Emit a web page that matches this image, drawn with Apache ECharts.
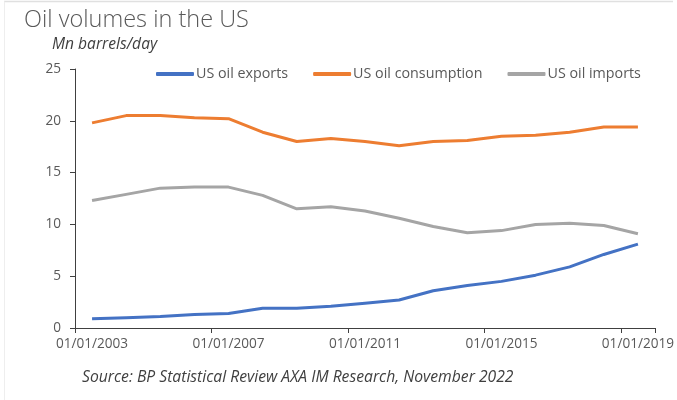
<!DOCTYPE html>
<html><head><meta charset="utf-8">
<script src="https://cdn.jsdelivr.net/npm/echarts@6/dist/echarts.min.js"></script>
<style>html,body{margin:0;padding:0;background:#fff}#c{width:677px;height:400px}</style>
</head><body><div id="c"></div>
<script>
const categories = ["01/01/2003","01/01/2004","01/01/2005","01/01/2006","01/01/2007","01/01/2008","01/01/2009","01/01/2010","01/01/2011","01/01/2012","01/01/2013","01/01/2014","01/01/2015","01/01/2016","01/01/2017","01/01/2018","01/01/2019"];
const exportsData = [0.9, 1.0, 1.1, 1.3, 1.4, 1.9, 1.9, 2.1, 2.4, 2.7, 3.6, 4.1, 4.5, 5.1, 5.9, 7.1, 8.1];
const consumptionData = [19.8, 20.5, 20.5, 20.3, 20.2, 18.9, 18.0, 18.3, 18.0, 17.6, 18.0, 18.1, 18.5, 18.6, 18.9, 19.4, 19.4];
const importsData = [12.3, 12.9, 13.5, 13.6, 13.6, 12.8, 11.5, 11.7, 11.3, 10.6, 9.8, 9.2, 9.4, 10.0, 10.1, 9.9, 9.1];
const seriesNames = ["US oil exports", "US oil consumption", "US oil imports"];
const yTicks = {min: 0, max: 25, interval: 5};

const FONT = '"Open Sans", sans-serif';
const chart = echarts.init(document.getElementById('c'), null, {renderer: 'canvas'});
const mk = (name, data, color) => ({
  name, type: 'line', data, symbol: 'none', smooth: false,
  lineStyle: {color, width: 3}, itemStyle: {color}
});
chart.setOption({
  animation: false,
  backgroundColor: '#fff',
  title: {
    text: 'Oil volumes in the US', left: 19, top: 3,
    textStyle: {fontFamily: FONT, fontSize: 23.5, fontWeight: 300, color: '#595959'}
  },
  legend: {
    data: seriesNames, left: 151, top: 62, itemWidth: 38, itemHeight: 4, itemGap: 25,
    icon: 'roundRect',
    textStyle: {fontFamily: FONT, fontSize: 14.3, color: '#595959', padding: [0, 0, 0, -3]}
  },
  grid: {left: 75, right: 22, top: 69, bottom: 72, containLabel: false},
  xAxis: {
    type: 'category', data: categories, boundaryGap: true,
    axisLine: {lineStyle: {color: '#404040', width: 1}},
    axisTick: {show: true, interval: 3, length: 5, lineStyle: {color: '#404040'}},
    axisLabel: {interval: 3, margin: 9, fontFamily: FONT, fontSize: 13.6, color: '#595959', hideOverlap: false},
    splitLine: {show: false}
  },
  yAxis: {
    type: 'value', min: yTicks.min, max: yTicks.max, interval: yTicks.interval,
    axisLine: {show: true, lineStyle: {color: '#404040', width: 1}},
    axisTick: {show: true, length: 5, lineStyle: {color: '#404040'}},
    axisLabel: {margin: 14, fontFamily: FONT, fontSize: 13.6, color: '#595959'},
    splitLine: {show: false}
  },
  graphic: [
    {type: 'text', left: 52, top: 37, style: {text: 'Mn barrels/day', fontFamily: FONT, fontSize: 15.6, fontStyle: 'italic', fill: '#404040'}},
    {type: 'text', left: 82, top: 370, style: {text: 'Source: BP Statistical Review AXA IM Research, November 2022', fontFamily: FONT, fontSize: 15.7, fontStyle: 'italic', fill: '#404040'}},
    {type: 'line', shape: {x1: 4, y1: 1.5, x2: 673, y2: 1.5}, style: {stroke: '#e0e0e0', lineWidth: 1.5}},
    {type: 'line', shape: {x1: 4.5, y1: 1.5, x2: 4.5, y2: 400}, style: {stroke: '#eeeeee', lineWidth: 1}}
  ],
  series: [
    mk(seriesNames[0], exportsData, '#4472C4'),
    mk(seriesNames[1], consumptionData, '#ED7D31'),
    mk(seriesNames[2], importsData, '#A5A5A5')
  ]
});
</script></body></html>
